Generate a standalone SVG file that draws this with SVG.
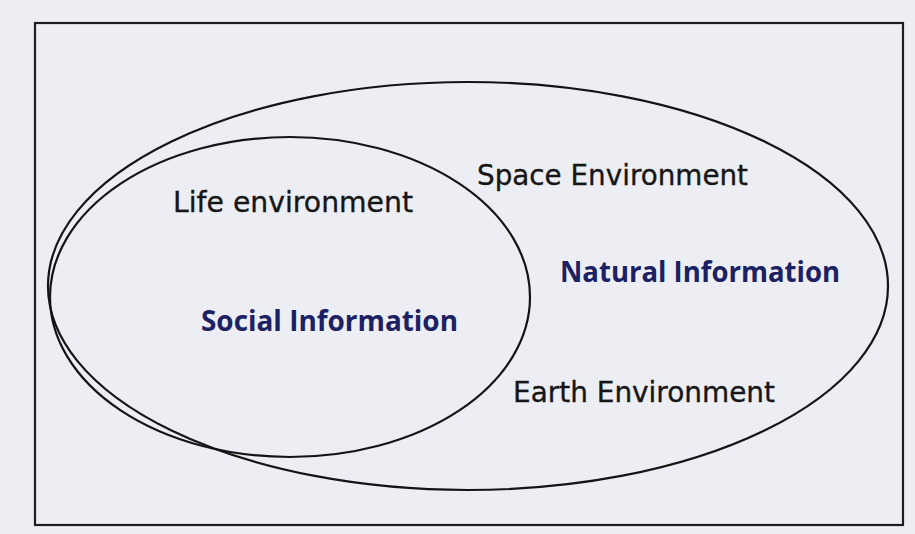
<svg xmlns="http://www.w3.org/2000/svg" width="915" height="534" viewBox="0 0 915 534">
  <style>
    .frame { fill: none; stroke: #1e1e1e; stroke-width: 2.2; }
    .env { fill: none; stroke: #141414; stroke-width: 2.2; }
    .lbl { font-family: "DejaVu Sans", "Liberation Sans", sans-serif; font-size: 28px; fill: #161616; stroke: #161616; stroke-width: 0.35; }
    .info { font-family: "Open Sans", "DejaVu Sans", sans-serif; font-size: 28px; font-weight: 700; fill: #1b2163; }
  </style>
  <rect x="0" y="0" width="915" height="534" fill="#eceef4"/>
  <g id="frame">
    <rect class="frame" x="35" y="23" width="868" height="502"/>
  </g>
  <g id="space-environment">
    <ellipse class="env" cx="468" cy="286" rx="420" ry="204"/>
    <text class="lbl" x="477" y="185" textLength="271" lengthAdjust="spacingAndGlyphs">Space Environment</text>
  </g>
  <g id="life-environment">
    <ellipse class="env" cx="290" cy="297" rx="240" ry="160"/>
    <text class="lbl" x="173" y="212" textLength="240" lengthAdjust="spacingAndGlyphs">Life environment</text>
  </g>
  <g id="social-information">
    <text class="info" x="201" y="331" textLength="257" lengthAdjust="spacingAndGlyphs">Social Information</text>
  </g>
  <g id="natural-information">
    <text class="info" x="560" y="282" textLength="280" lengthAdjust="spacingAndGlyphs">Natural Information</text>
  </g>
  <g id="earth-environment">
    <text class="lbl" x="513" y="402" textLength="262" lengthAdjust="spacingAndGlyphs">Earth Environment</text>
  </g>
  <g id="connectors"></g>
</svg>
